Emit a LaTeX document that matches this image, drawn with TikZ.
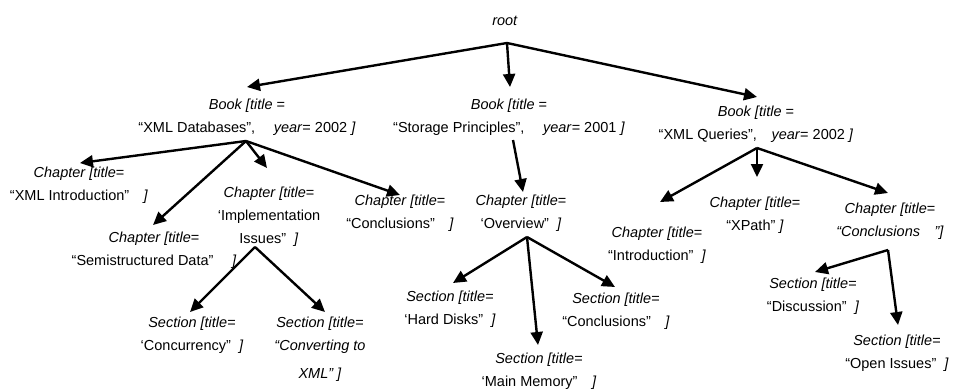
\documentclass[tikz,border=0pt]{standalone}
\usepackage{fontspec}
\setmainfont{Liberation Sans}
\usetikzlibrary{arrows.meta}

\begin{document}
\begin{tikzpicture}[->,>={Triangle[length=13pt,width=12pt]},line width=2.4pt,
                    x=1pt,y=-1pt]
\tikzstyle{elem}=[align=center,inner sep=0pt,anchor=north]
\tikzset{font=\fontsize{14.5pt}{23pt}\selectfont}

\useasboundingbox (0,0) rectangle (955,388);

        \node (root) at (505,21) {\textit{root}};

        % books
        \node[elem] (bk1) at (247,98)  {\textit{Book [title} =\\ “XML Databases”,\quad\ \textit{year}= 2002 \textit{]}};
        \node[elem] (bk2) at (509,98)  {\textit{Book [title} =\\ “Storage Principles”,\quad\ \textit{year}= 2001 \textit{]}};
        \node[elem] (bk3) at (756,105) {\textit{Book [title} =\\ “XML Queries”,\quad \textit{year}=\ 2002 \textit{]}};

        % chapters
        \node[elem] (ch1) at (79,166)  {\textit{Chapter [title}=\\ “XML Introduction”\quad\textit{]}};
        \node[elem] (ch2) at (269,186) {\textit{Chapter [title}=\\ ‘Implementation\\ Issues”\ \ \textit{]}};
        \node[elem] (ch3) at (154,231) {\textit{Chapter [title}=\\ “Semistructured Data”\quad\ \textit{]}};
        \node[elem] (ch4) at (400,194) {\textit{Chapter [title}=\\ “Conclusions”\quad\textit{]}};
        \node[elem] (ch5) at (521,194) {\textit{Chapter [title}=\\ ‘Overview”\ \ \textit{]}};
        \node[elem] (ch6) at (657,226) {\textit{Chapter [title}=\\ “Introduction”\ \ \textit{]}};
        \node[elem] (ch7) at (755,196) {\textit{Chapter [title}=\\ “XPath” \textit{]}};
        \node[elem] (ch8) at (890,202) {\textit{Chapter [title}=\\ \textit{“Conclusions\quad ”]}};

        % sections
        \node[elem] (s1) at (192,316) {\textit{Section [title}=\\ ‘Concurrency”\ \ \textit{]}};
        \node[elem] (s2) at (320,316) {\textit{Section [title}=\\ \textit{“Converting to}\\[5pt] \textit{XML” ]}};
        \node[elem] (s3) at (450,290) {\textit{Section [title}=\\ ‘Hard Disks”\ \ \textit{]}};
        \node[elem] (s4) at (539,352) {\textit{Section [title}=\\ ‘Main Memory”\quad\textit{]}};
        \node[elem] (s5) at (616,292) {\textit{Section [title}=\\ “Conclusions”\quad\textit{]}};
        \node[elem] (s6) at (813,277) {\textit{Section [title}=\\ “Discussion”\ \ \textit{]}};
        \node[elem] (s7) at (897,334) {\textit{Section [title}=\\ “Open Issues”\ \ \textit{]}};

        % branch points
        \coordinate (root-b) at (507,43);
        \coordinate (bk1-b)  at (246,141);
        \coordinate (bk2-b)  at (513,140);
        \coordinate (bk3-b)  at (757,148);
        \coordinate (ch2-b)  at (255,247);
        \coordinate (ch5-b)  at (527,237);
        \coordinate (ch8-b)  at (888,250);

        \path[->]
        (root-b) edge ([shift={(0,-11)}]bk1.north)
        (root-b) edge ([shift={(1,-11)}]bk2.north)
        (root-b) edge ([shift={(1,-8)}]bk3.north)
        (bk1-b)  edge ([shift={(1,-3)}]ch1.north)
        (bk1-b)  edge ([shift={(-2,-18)}]ch2.north)
        (bk1-b)  edge ([shift={(-1,-6)}]ch3.north)
        (bk1-b)  edge ([shift={(0,1)}]ch4.north)
        (bk2-b)  edge ([shift={(2,-2)}]ch5.north)
        (bk3-b)  edge ([shift={(3,-24)}]ch6.north)
        (bk3-b)  edge ([shift={(2,-19)}]ch7.north)
        (bk3-b)  edge ([shift={(-2,-9)}]ch8.north)
        (ch2-b)  edge ([shift={(-2,-4)}]s1.north)
        (ch2-b)  edge ([shift={(5,-4)}]s2.north)
        (ch5-b)  edge ([shift={(3,-7)}]s3.north)
        (ch5-b)  edge ([shift={(-1,-7)}]s4.north)
        (ch5-b)  edge ([shift={(-1,-5)}]s5.north)
        (ch8-b)  edge ([shift={(2,-5)}]s6.north)
        (ch8-b)  edge ([shift={(1,-9)}]s7.north)
        ; %end path

\end{tikzpicture}
\end{document}
